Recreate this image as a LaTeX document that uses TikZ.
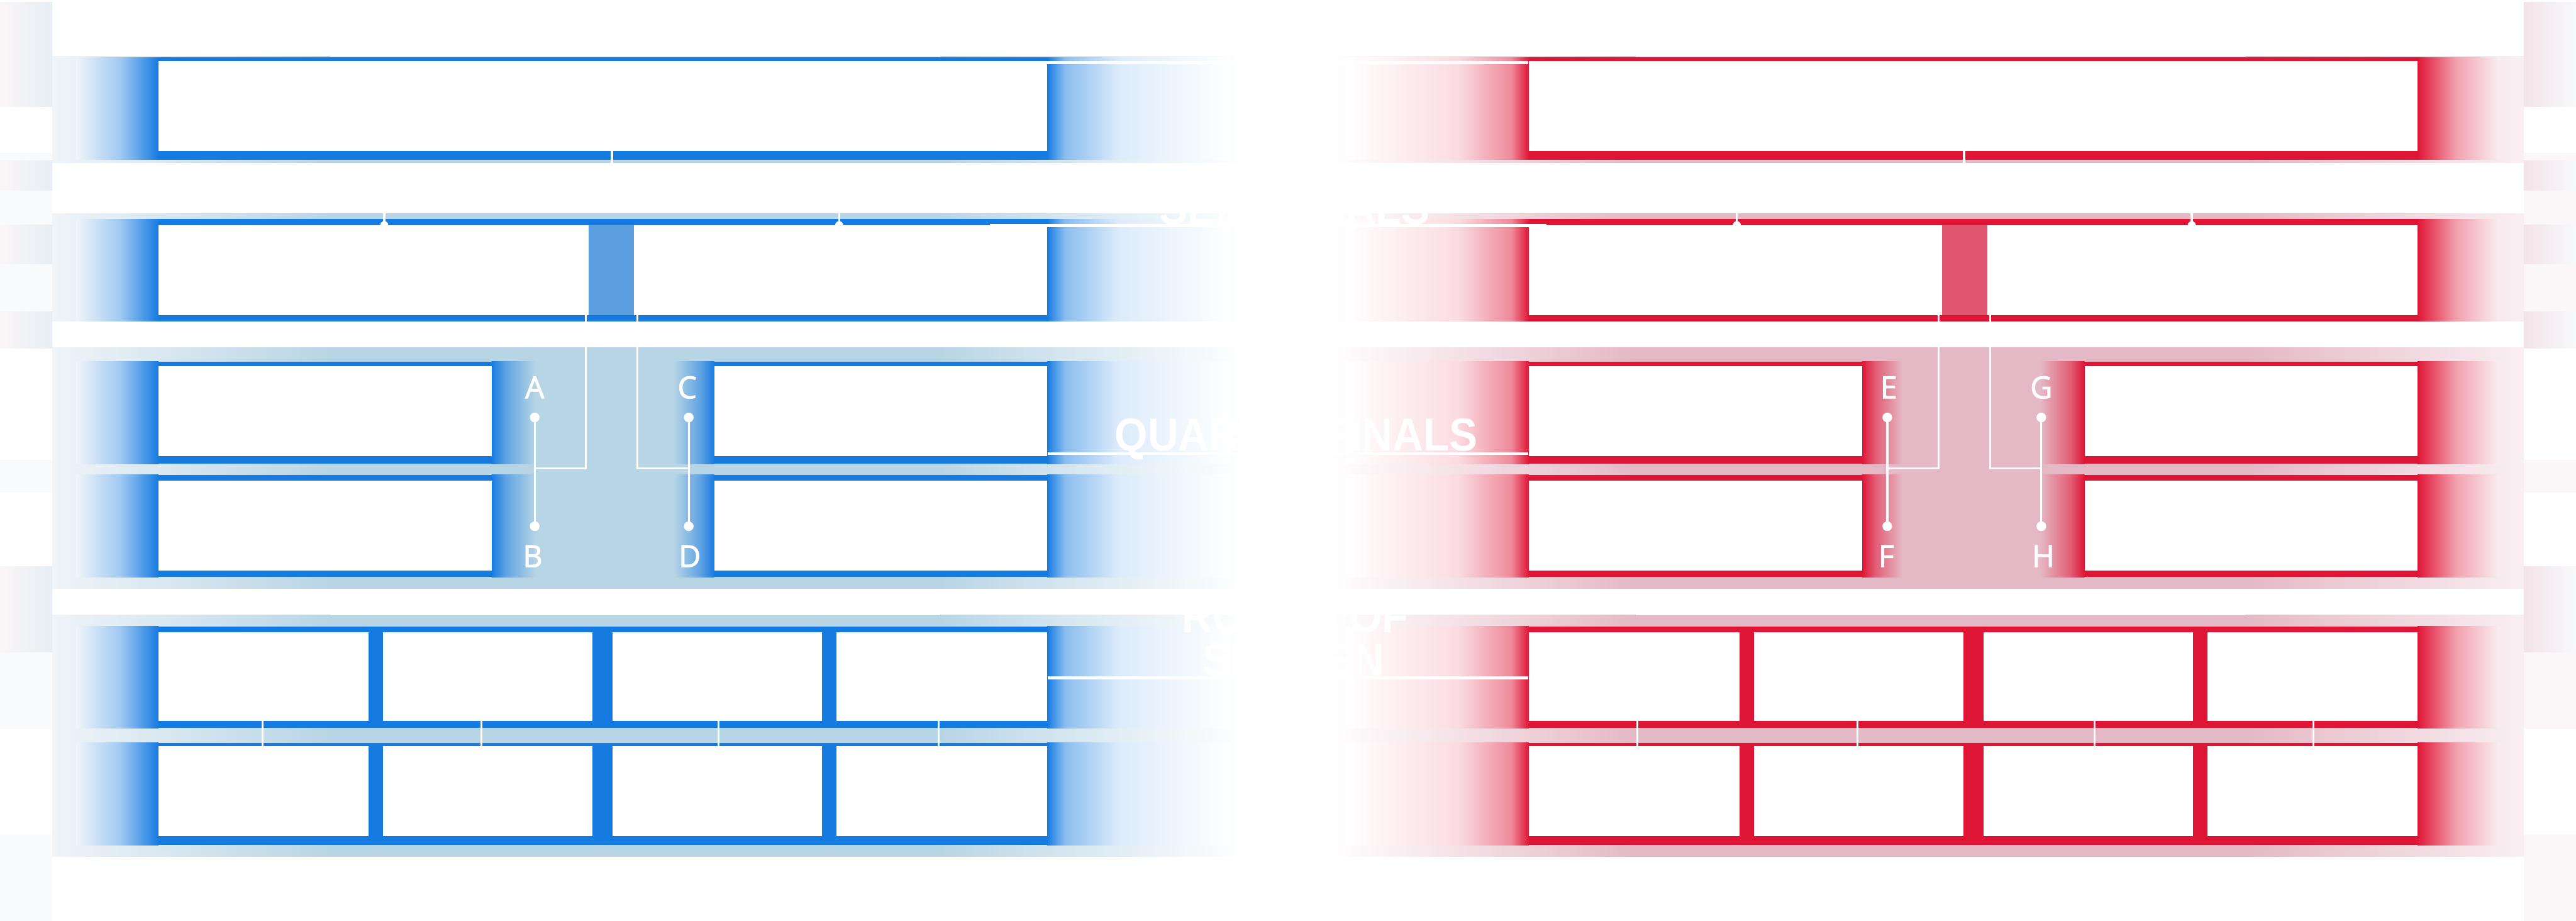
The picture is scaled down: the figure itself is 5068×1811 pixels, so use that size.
\documentclass[tikz,border=0pt]{standalone}
\usepackage{fontspec}
\usepackage{tikz}
\usetikzlibrary{calc}

\newfontfamily\stagefont{Liberation Sans}[FakeStretch=0.92]
\newfontfamily\letterfont{Open Sans}[FakeBold=2]

\definecolor{blueedge}{HTML}{167BE0}
\definecolor{bluemid}{HTML}{5B9FE1}
\definecolor{blueband}{HTML}{B8D5E5}
\definecolor{bluepale}{HTML}{EFF4F8}
\definecolor{bluestrip}{HTML}{E6EEF4}
\definecolor{redstrip}{HTML}{F3E3E8}
\definecolor{rededge}{HTML}{DF1535}
\definecolor{redmid}{HTML}{E0566F}
\definecolor{redband}{HTML}{E5B8C5}
\definecolor{redpale}{HTML}{F9EFF2}

% one half of the bracket, drawn in pixel units (y down)
\newcommand\bracketside[4]{%
  % strip at the outer edge
  \foreach \ya/\yb in {4/210,315/375,442/520,612/685,1114/1283}
    \shade[grad={stripout!35!white}{stripin}] (0,\ya) rectangle (103,\yb);
  \foreach \ya/\yb in {301/315,375/442,520/612,905/969,1283/1434,1642/1811}
    \fill[stripin!30!white] (0,\ya) rectangle (103,\yb);
  % bands
  \foreach \ya/\yb in {111/320,420/632,683/1158,1210/1685}{
    \shade[grad={pale}{band}] (103,\ya) rectangle (650,\yb);
    \fill[band] (650,\ya) rectangle (1850,\yb);
    \shade[grad={band}{white}] (1850,\ya) rectangle (2450,\yb);
  }
  % frames and their glow
  \foreach \ya/\yb in {113/314,431/632,711/912,934/1135,1232/1432,1461/1662}{
    \shade[grad={pale}{edge!40!white}] (150,\ya) rectangle (235,\yb);
    \shade[grad={edge!40!white}{edge}] (235,\ya) rectangle (312,\yb);
    \fill[edge] (312,\ya) rectangle (2060,\yb);
    \shade[grad={edge}{edge!50!white}] (2060,\ya) rectangle (2095,\yb);
    \shade[grad={edge!50!white}{edge!15!white}] (2095,\ya) rectangle (2200,\yb);
    \shade[grad={edge!15!white}{white}] (2200,\ya) rectangle (2420,\yb);
  }
  \foreach \ya/\yb in {711/912,934/1135}{
    \fill[band] (967,\ya) rectangle (1405,\yb);
    \shade[grad={edge}{edge!55!band}] (967,\ya) rectangle (995,\yb);
    \shade[grad={edge!55!band}{band}] (995,\ya) rectangle (1055,\yb);
    \shade[grad={band}{edge!55!band}] (1325,\ya) rectangle (1378,\yb);
    \shade[grad={edge!55!band}{edge}] (1378,\ya) rectangle (1405,\yb);
  }
  % boxes
  \fill[white] (312,120) rectangle (2060,297);
  \fill[white] (312,443) rectangle (1158,620);
  \fill[white] (1247,443) rectangle (2060,620);
  \fill[mid] (1158,443) rectangle (1247,620);
  \foreach \ya/\yb in {720/897,945/1122}{
    \fill[white] (312,\ya) rectangle (967,\yb);
    \fill[white] (1405,\ya) rectangle (2060,\yb);
  }
  \foreach \xa/\xb in {312/725,754/1166,1205/1617,1646/2060}
    \foreach \ya/\yb in {1243/1418,1467/1644}
      \fill[white] (\xa,\ya) rectangle (\xb,\yb);
  % connectors
  \coordinate (final) at (1204,297);
  \coordinate (semiL) at (756,443);
  \coordinate (semiR) at (1651,443);
  \draw[wire] (final) -- ++(0,73) -| (semiL);
  \draw[wire] (final) ++(0,73) -| (semiR);
  \fill[white] (semiL) circle (8) (semiR) circle (8);
  \coordinate (semiLout) at (1153,619);
  \coordinate (semiRout) at (1254,619);
  \coordinate (#1) at (1052,821);
  \coordinate (#2) at (1052,1035);
  \coordinate (#3) at (1355,821);
  \coordinate (#4) at (1355,1035);
  \draw[wire] (#1) -- (#2);
  \draw[wire] (#3) -- (#4);
  \draw[wire] (semiLout) |- ($(#1)!0.47!(#2)$);
  \draw[wire] (semiRout) |- ($(#3)!0.47!(#4)$);
  \foreach \p in {#1,#2,#3,#4}
    \fill[white] (\p) circle (9.5);
  \node[letter] (lab#1) at (1052,762) {#1};
  \node[letter] (lab#2) at (1048,1094) {#2};
  \node[letter] (lab#3) at (1352,762) {#3};
  \node[letter] (lab#4) at (1357,1094) {#4};
  \foreach \x in {517,947,1414,1847}
    \draw[wire] (\x,1418) -- (\x,1467);
}

\begin{document}
\begin{tikzpicture}[x=0.1mm,y=-0.1mm,
    wire/.style={white,line width=0.4mm},
    rule/.style={white,line width=0.6mm},
    stage/.style={text=white,inner sep=0pt,anchor=base,
      font=\stagefont\bfseries\fontsize{25.8pt}{31pt}\selectfont},
    letter/.style={text=white,inner sep=0pt,
      font=\letterfont\fontsize{17pt}{20pt}\selectfont}]
  \useasboundingbox (0,0) rectangle (5068,1811);
  \fill[white] (0,0) rectangle (5068,1811);

  % blue half
  \begin{scope}[grad/.style 2 args={left color=#1,right color=#2}]
    \colorlet{edge}{blueedge}\colorlet{mid}{bluemid}\colorlet{band}{blueband}
    \colorlet{pale}{bluepale}\colorlet{stripin}{bluestrip}\colorlet{stripout}{redstrip}
    \bracketside{A}{B}{C}{D}
  \end{scope}

  % red half, mirrored (shadings keep their direction, so swap them)
  \begin{scope}[shift={(5068,0)},xscale=-1,
      grad/.style 2 args={left color=#2,right color=#1}]
    \colorlet{edge}{rededge}\colorlet{mid}{redmid}\colorlet{band}{redband}
    \colorlet{pale}{redpale}\colorlet{stripin}{redstrip}\colorlet{stripout}{bluestrip}
    \bracketside{G}{H}{E}{F}
  \end{scope}

  % stage names
  \draw[rule] (2060,123) -- (3007,123);
  \draw[rule] (1947,444) -- (3043,444);
  \draw[rule] (2061,892) -- (3007,892);
  \draw[rule] (2061,1333) -- (3007,1333);
  \node[stage] (semi) at (2547,441) {SEMI-FINALS};
  \node[stage] (quarter) at (2550,887) {QUARTERFINALS};
  \node[stage] (round) at (2548,1244) {ROUND OF};
  \node[stage] (sixteen) at (2545,1330) {SIXTEEN};
\end{tikzpicture}
\end{document}
